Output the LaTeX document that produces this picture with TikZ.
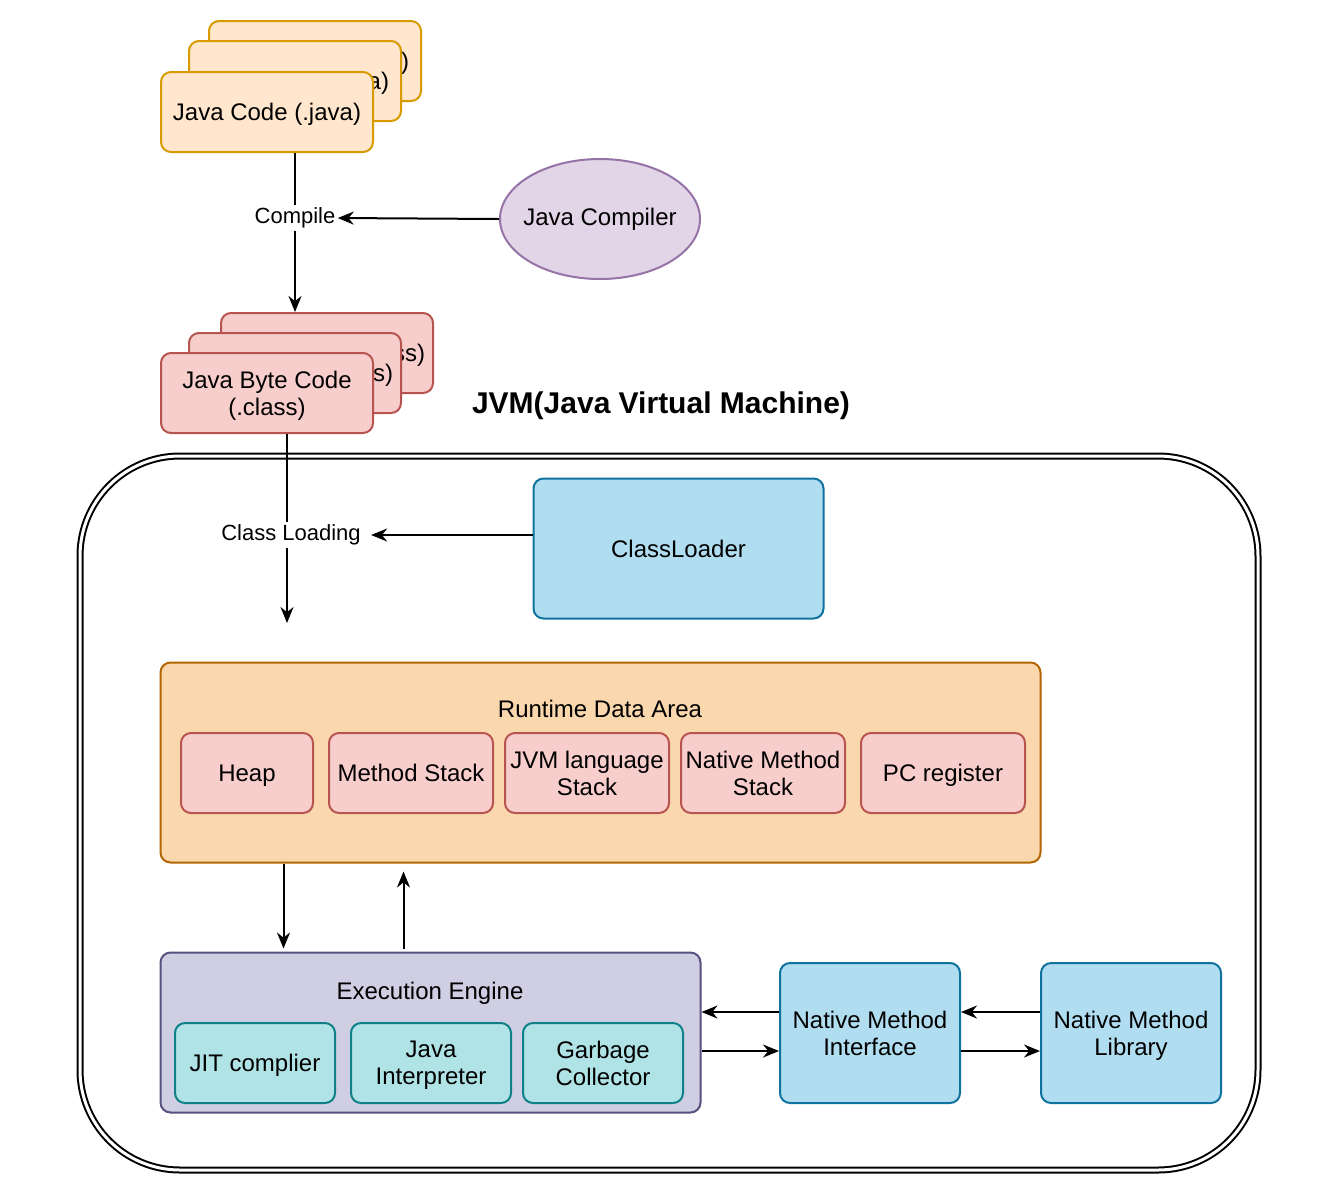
\documentclass[tikz,border=0pt]{standalone}
\usepackage{fontspec}
\setmainfont{Liberation Sans}
\usetikzlibrary{positioning, arrows.meta, shapes}

\definecolor{javafill}{HTML}{FFE6CC}
\definecolor{javaline}{HTML}{D79B00}
\definecolor{bytefill}{HTML}{F8CECC}
\definecolor{byteline}{HTML}{B85450}
\definecolor{compfill}{HTML}{E1D5E7}
\definecolor{compline}{HTML}{9673A6}
\definecolor{natfill}{HTML}{B1DDF0}
\definecolor{natline}{HTML}{10739E}
\definecolor{rtfill}{HTML}{FAD7AC}
\definecolor{rtline}{HTML}{B46504}
\definecolor{eefill}{HTML}{D0CEE2}
\definecolor{eeline}{HTML}{56517E}
\definecolor{engfill}{HTML}{B0E3E6}
\definecolor{engline}{HTML}{0E8088}

\begin{document}
\begin{tikzpicture}[x=0.5pt, y=-0.5pt, font=\fontsize{12}{13.5}\selectfont,
	box/.style={draw, rectangle, rounded corners=5pt, line width=1pt, inner sep=1pt, text depth=0pt, text centered, align=center},
	source/.style={box, draw=javaline, fill=javafill, minimum width=106pt, minimum height=40pt},
	bytecode/.style={box, draw=byteline, fill=bytefill, minimum width=106pt, minimum height=40pt},
	area/.style={box, draw=byteline, fill=bytefill, minimum height=40pt},
	engine/.style={box, draw=engline, fill=engfill, minimum width=80pt, minimum height=40pt},
	native/.style={box, draw=natline, fill=natfill, minimum width=90pt, minimum height=70pt},
	flow/.style={line width=1pt, -{Stealth[length=8pt, width=6.5pt]}},
	plain/.style={line width=1pt},
	tag/.style={fill=white, inner sep=1pt, font=\fontsize{11}{13}\selectfont}]
		\useasboundingbox (0,0) rectangle (1322,1200);
		
		\node (Java Code 3) at (315,61) [source]{Java Code (.java)};
		\node (Java Code 2) at (295,81) [source]{Java Code (.java)};
		\node (Java Code) at (267,112) [source]{Java Code (.java)};
		\node (Java Compiler) at (600,219) [draw=compline, fill=compfill, ellipse, line width=1pt, 
		minimum width=100pt, minimum height=60pt]{\makebox[0pt]{Java Compiler}};
		\node (Compile) at (295,218) [tag]{Compile};
		
		\node (Byte Code 3) at (327,353) [bytecode]{Byte Code (.class)};
		\node (Byte Code 2) at (295,373) [bytecode]{Byte Code (.class)};
		\node (Byte Code) at (267,393) [bytecode]{Java Byte Code\\(.class)};
		
		\node (JVM title) at (661,406) [font=\fontsize{15}{18}\selectfont\bfseries]{JVM(Java Virtual Machine)};
		\node (JVM) at (669,813) [draw, double, line width=1pt, double distance=1.5pt, rounded corners=50pt, 
		minimum width=589pt, minimum height=357pt]{};
		
		\node (ClassLoader) at (678.5,548.5) [box, draw=natline, fill=natfill, minimum width=145pt, 
		minimum height=70pt]{ClassLoader};
		\node (Class Loading) at (291,535) [tag]{Class Loading};
		\coordinate (Loaded) at (287,623);
		
		\node (Runtime Data Area) at (600.5,762.5) [box, draw=rtline, fill=rtfill, minimum width=440pt, 
		minimum height=100pt]{};
		\node (Runtime title) at (600,709) {Runtime Data Area};
		\node (Heap) at (247,773) [area, minimum width=66pt]{Heap};
		\node (Method Stack) at (411,773) [area, minimum width=82pt]{Method Stack};
		\node (JVM language Stack) at (587,773) [area, minimum width=82pt]{JVM language\\Stack};
		\node (Native Method Stack) at (763,773) [area, minimum width=82pt]{Native Method\\Stack};
		\node (PC register) at (943,773) [area, minimum width=82pt]{PC register};
		
		\node (Execution Engine) at (430.5,1032.5) [box, draw=eeline, fill=eefill, minimum width=270pt, 
		minimum height=80pt]{};
		\node (Engine title) at (430,993) {Execution Engine};
		\node (JIT complier) at (255,1063) [engine]{JIT complier};
		\node (Java Interpreter) at (431,1063) [engine]{Java\\Interpreter};
		\node (Garbage Collector) at (603,1063) [engine]{Garbage\\Collector};
		
		\node (Native Method Interface) at (870,1033) [native]{Native Method\\Interface};
		\node (Native Method Library) at (1131,1033) [native]{Native Method\\Library};
		
		\draw[plain] (Java Code.south -| Compile) -- (Compile);
		\draw[flow] (Compile) -- (Compile |- Byte Code 3.north);
		\draw[flow] (Java Compiler.west) -- (Compile.east);
		
		\draw[plain] (Byte Code.south -| Loaded) -- (Loaded |- Class Loading.north);
		\draw[flow] (Loaded |- Class Loading.south) -- (Loaded);
		\draw[flow] (ClassLoader.west |- Class Loading) -- ([xshift=4pt]Class Loading.east);
		
		\draw[flow] ([xshift=62pt]Runtime Data Area.south west) -- ([xshift=62pt, yshift=1.5pt]Execution Engine.north west);
		\draw[flow, shorten >=4pt] ([xshift=122pt, yshift=1.5pt]Execution Engine.north west) -- ([xshift=122pt]Runtime Data Area.south west);
		
		\draw[flow] ([yshift=10.5pt]Native Method Interface.west) -- ([yshift=10.5pt]Native Method Interface.west -| Execution Engine.east);
		\draw[flow] ([yshift=-9pt]Native Method Interface.west -| Execution Engine.east) -- ([yshift=-9pt]Native Method Interface.west);
		\draw[flow] ([yshift=10.5pt]Native Method Library.west) -- ([yshift=10.5pt]Native Method Interface.east);
		\draw[flow] ([yshift=-9pt]Native Method Interface.east) -- ([yshift=-9pt]Native Method Library.west);
\end{tikzpicture}
\end{document}
